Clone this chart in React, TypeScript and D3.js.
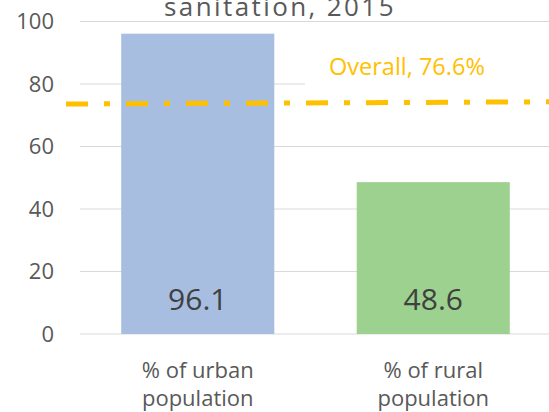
import React from "react";
import * as d3 from "d3";

// chart data
const title = "sanitation, 2015";
const categories = ["% of urban population", "% of rural population"];
const categoryLines = [
  ["% of urban", "population"],
  ["% of rural", "population"],
];
const values = [96.1, 48.6];
const barColors = ["#a7bee0", "#9cd18f"];
const yTicks = [0, 20, 40, 60, 80, 100];
// overall reference line, as drawn (left end, right end)
const overallLevel = [73.6, 74.3];
const overallLabel = "Overall, 76.6%";

const width = 549;
const height = 412;
const plot = { left: 80, right: 551, top: 21.5, bottom: 334 };
const font = "'Open Sans', 'Noto Sans', sans-serif";

const App = () => {
  const x = d3
    .scaleBand()
    .domain(categories)
    .range([plot.left, plot.right])
    .paddingInner(0.35)
    .paddingOuter(0.175);

  const y = d3.scaleLinear().domain([0, 100]).range([plot.bottom, plot.top]);

  const lineX = d3.scaleLinear().domain([0, 1]).range([66, 551]);
  const overallPath = d3.line<number>()
    .x((_, i) => lineX(i))
    .y((d) => y(d))(overallLevel);

  return (
    <svg
      width={width}
      height={height}
      style={{ position: "absolute", left: 0, top: 0, background: "#fff" }}
      fontFamily={font}
    >
      {/* gridlines */}
      {yTicks.map((t) => (
        <line
          key={t}
          x1={plot.left}
          x2={plot.right}
          y1={y(t)}
          y2={y(t)}
          stroke="#d9d9d9"
          strokeWidth={1.2}
        />
      ))}

      {/* tick labels */}
      {yTicks.map((t) => (
        <text
          key={"l" + t}
          x={54}
          y={y(t)}
          dy="0.36em"
          textAnchor="end"
          fontSize={22}
          fill="#595959"
        >
          {t}
        </text>
      ))}

      {/* title, top line is cut off */}
      <text
        x={280}
        y={16}
        textAnchor="middle"
        fontSize={26}
        letterSpacing={2.4}
        fill="#595959"
      >
        {title}
      </text>

      {/* bars */}
      {categories.map((c, i) => (
        <rect
          key={c}
          x={x(c)}
          y={y(values[i])}
          width={x.bandwidth()}
          height={y(0) - y(values[i])}
          fill={barColors[i]}
        />
      ))}

      {/* label box for the overall line */}
      <rect x={305} y={52} width={250} height={42} fill="#fff" />

      {/* overall line */}
      <path
        d={overallPath || ""}
        fill="none"
        stroke="#ffc000"
        strokeWidth={5}
        strokeDasharray="22 16 6 16"
      />
      <text x={329} y={75} fontSize={23.5} fill="#ffc000">
        {overallLabel}
      </text>

      {/* value labels */}
      {categories.map((c, i) => (
        <text
          key={"v" + c}
          x={(x(c) ?? 0) + x.bandwidth() / 2}
          y={310}
          textAnchor="middle"
          fontSize={30}
          fill="#404040"
        >
          {values[i]}
        </text>
      ))}

      {/* category labels */}
      {categories.map((c, i) => (
        <text
          key={"c" + c}
          x={(x(c) ?? 0) + x.bandwidth() / 2}
          y={378}
          textAnchor="middle"
          fontSize={22}
          fill="#595959"
        >
          {categoryLines[i].map((ln, j) => (
            <tspan key={j} x={(x(c) ?? 0) + x.bandwidth() / 2} dy={j === 0 ? 0 : 28}>
              {ln}
            </tspan>
          ))}
        </text>
      ))}
    </svg>
  );
};

export default App;
